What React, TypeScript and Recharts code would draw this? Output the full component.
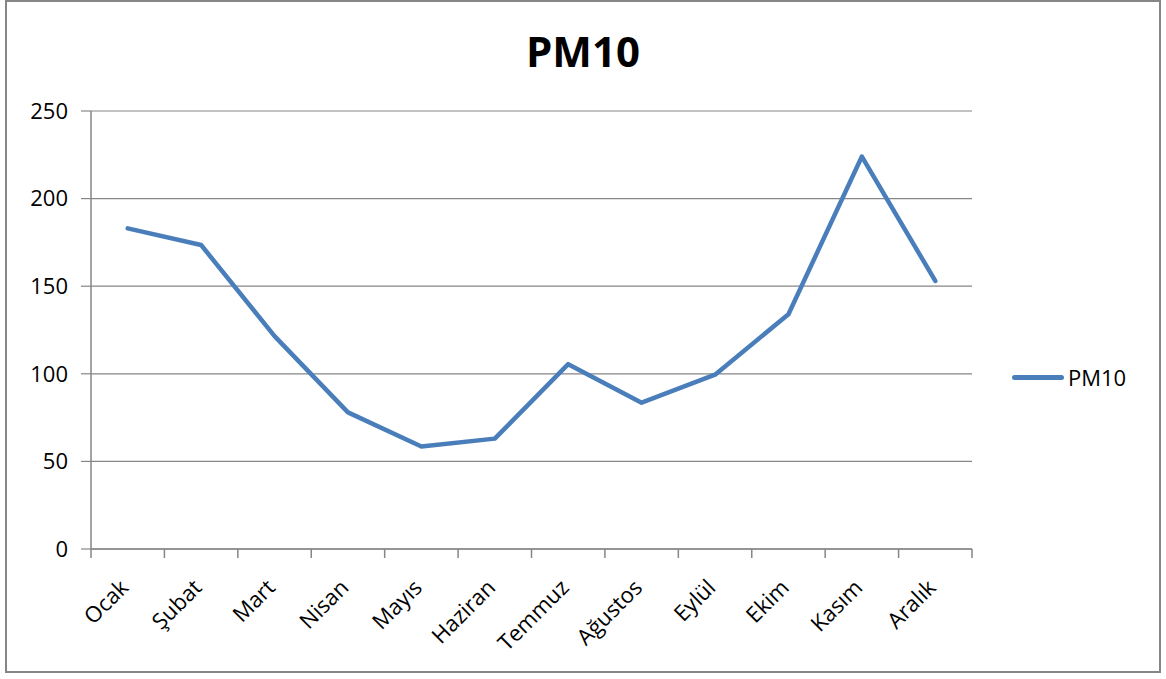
import { CartesianGrid, Line, LineChart, XAxis, YAxis } from "recharts";

const months = ["Ocak", "Şubat", "Mart", "Nisan", "Mayıs", "Haziran", "Temmuz", "Ağustos", "Eylül", "Ekim", "Kasım", "Aralık"];
const pm10 = [183, 173.5, 121.5, 78, 58.5, 63, 105.5, 83.5, 99.5, 134, 224, 153];
const yTicks = [0, 50, 100, 150, 200, 250];

const data = months.map((month, i) => ({ month, pm10: pm10[i] }));

const W = 1166;
const H = 679;
const PLOT_LEFT = 91;
const PLOT_RIGHT = 972;
const PLOT_TOP = 111;
const PLOT_BOTTOM = 549;
const BAND = (PLOT_RIGHT - PLOT_LEFT) / months.length;
const GRAY = "#868686";
const BLUE = "#4A7EBB";
const FONT = "'Open Sans', sans-serif";

function MonthTick(props: any) {
  const { x, y, payload, index } = props;
  const last = index === months.length - 1;
  return (
    <g>
      <line x1={x - BAND / 2} x2={x - BAND / 2} y1={y} y2={y + 9} stroke={GRAY} strokeWidth={1.5} />
      {last && <line x1={x + BAND / 2} x2={x + BAND / 2} y1={y} y2={y + 9} stroke={GRAY} strokeWidth={1.5} />}
      <text
        x={x + 2}
        y={y + 40}
        textAnchor="end"
        fill="#000"
        fontSize={22}
        fontFamily={FONT}
        transform={`rotate(-45, ${x + 2}, ${y + 40})`}
      >
        {payload.value}
      </text>
    </g>
  );
}

export default function App() {
  return (
    <div style={{ position: "absolute", left: 0, top: 0, width: W, height: H, background: "#fff", fontFamily: FONT }}>
      <div
        style={{
          position: "absolute",
          left: 5,
          top: 0,
          width: 1156,
          height: 673,
          border: `2px solid ${GRAY}`,
          boxSizing: "border-box",
        }}
      />
      <div
        style={{
          position: "absolute",
          left: 0,
          width: W,
          top: 22,
          textAlign: "center",
          fontSize: 42,
          fontWeight: 700,
          lineHeight: "58px",
          color: "#000",
        }}
      >
        PM10
      </div>
      <div style={{ position: "absolute", left: 0, top: 0 }}>
        <LineChart
          width={W}
          height={H}
          data={data}
          margin={{ top: PLOT_TOP, right: W - PLOT_RIGHT, bottom: 0, left: PLOT_LEFT - 60 }}
        >
          <CartesianGrid vertical={false} stroke={GRAY} strokeWidth={1.2} />
          <XAxis
            dataKey="month"
            interval={0}
            height={H - PLOT_BOTTOM}
            padding={{ left: BAND / 2, right: BAND / 2 }}
            tickSize={0}
            tickMargin={0}
            tickLine={false}
            axisLine={{ stroke: GRAY, strokeWidth: 1.5 }}
            tick={<MonthTick />}
          />
          <YAxis
            width={60}
            domain={[0, 250]}
            ticks={yTicks}
            interval={0}
            tickSize={10}
            tickMargin={13}
            tickLine={{ stroke: GRAY, strokeWidth: 1.2 }}
            axisLine={{ stroke: GRAY, strokeWidth: 1.5 }}
            tick={{ fill: "#000", fontSize: 22, fontFamily: FONT }}
          />
          <Line
            type="linear"
            dataKey="pm10"
            name="PM10"
            stroke={BLUE}
            strokeWidth={4.5}
            strokeLinecap="round"
            strokeLinejoin="round"
            dot={false}
            activeDot={false}
            isAnimationActive={false}
          />
        </LineChart>
      </div>
      <div style={{ position: "absolute", left: 1012, top: 362, display: "flex", alignItems: "center" }}>
        <div style={{ width: 52, height: 5, background: BLUE, borderRadius: 3 }} />
        <span style={{ fontSize: 22, marginLeft: 4, color: "#000" }}>PM10</span>
      </div>
    </div>
  );
}
